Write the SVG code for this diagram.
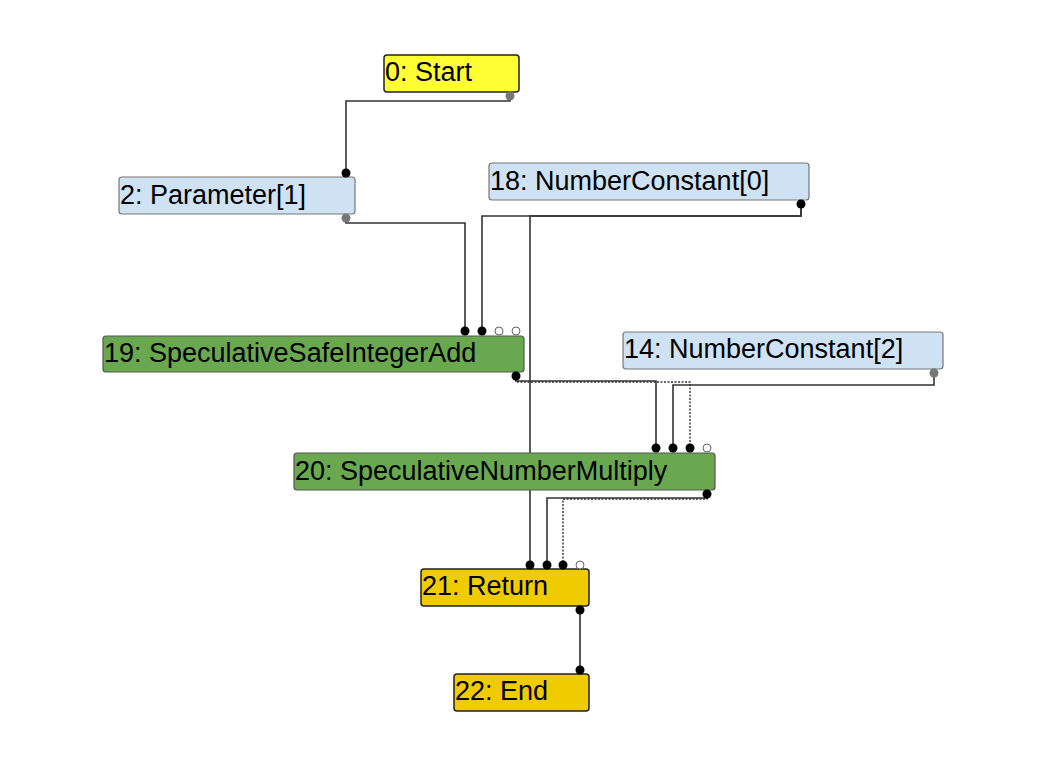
<svg xmlns="http://www.w3.org/2000/svg" width="1055" height="764" viewBox="0 0 1055 764">
<style>
.node rect{stroke:#222;stroke-width:1.5;}
.node text{font-family:"Liberation Sans",Arial,sans-serif;font-size:27px;fill:#000;}
.ctrl rect{fill:#ffff33;}
.ret rect{fill:#f0cb00;}
.cst rect{fill:#cfe2f3;stroke:#777;stroke-width:1.2;}
.op rect{fill:#6aa84f;stroke:#555;stroke-width:1.2;}
.e{fill:none;stroke:#333;stroke-width:1.6;}
.d{fill:none;stroke:#333;stroke-width:1.4;stroke-dasharray:2 1.5;}
.in{fill:#000;}
.gr{fill:#777;}
.ho{fill:#fff;stroke:#666;stroke-width:1;}
</style>
<rect width="1055" height="764" fill="#fff"/>
<g id="connectors">
<path class="e" d="M510,96 V101 H346 V173"/>
<path class="e" d="M346,218 V223 H465 V331"/>
<path class="e" d="M801,204 V216 H482 V331"/>
<path class="e" d="M801,204 V216 H530 V565"/>
<path class="e" d="M516,376 V381 H656 V448"/>
<path class="d" d="M516,376 V382 H690 V448"/>
<path class="e" d="M934,373 V385 H673 V448"/>
<path class="e" d="M707,494 V498 H547 V565"/>
<path class="d" d="M707,494 V499 H563 V565"/>
<path class="e" d="M580,610 V670"/>
</g>
<g id="node0" class="node ctrl">
<rect x="384" y="55" width="135" height="37" rx="3"/>
<text x="385" y="81">0: Start</text>
<circle class="gr" cx="510" cy="96" r="4.5"/>
</g>
<g id="node2" class="node cst">
<rect x="119" y="177" width="236" height="37" rx="3"/>
<text x="120" y="204">2: Parameter[1]</text>
<circle class="in" cx="346" cy="173" r="4.5"/>
<circle class="gr" cx="346" cy="218" r="4.5"/>
</g>
<g id="node18" class="node cst">
<rect x="489" y="163" width="320" height="37" rx="3"/>
<text x="490" y="190">18: NumberConstant[0]</text>
<circle class="in" cx="801" cy="204" r="4.5"/>
</g>
<g id="node19" class="node op">
<rect x="103" y="336" width="421" height="36" rx="3"/>
<text x="104" y="362">19: SpeculativeSafeIntegerAdd</text>
<circle class="in" cx="465" cy="331" r="4.5"/>
<circle class="in" cx="482" cy="331" r="4.5"/>
<circle class="ho" cx="499" cy="331" r="4"/>
<circle class="ho" cx="516" cy="331" r="4"/>
<circle class="in" cx="516" cy="376" r="4.5"/>
</g>
<g id="node14" class="node cst">
<rect x="623" y="332" width="320" height="37" rx="3"/>
<text x="624" y="358">14: NumberConstant[2]</text>
<circle class="gr" cx="934" cy="373" r="4.5"/>
</g>
<g id="node20" class="node op">
<rect x="294" y="453" width="421" height="37" rx="3"/>
<text x="295" y="480">20: SpeculativeNumberMultiply</text>
<circle class="in" cx="656" cy="448" r="4.5"/>
<circle class="in" cx="673" cy="448" r="4.5"/>
<circle class="in" cx="690" cy="448" r="4.5"/>
<circle class="ho" cx="707" cy="448" r="4"/>
<circle class="in" cx="707" cy="494" r="4.5"/>
</g>
<g id="node21" class="node ret">
<rect x="421" y="569" width="168" height="37" rx="3"/>
<text x="422" y="595">21: Return</text>
<circle class="in" cx="530" cy="565" r="4.5"/>
<circle class="in" cx="547" cy="565" r="4.5"/>
<circle class="in" cx="563" cy="565" r="4.5"/>
<circle class="ho" cx="580" cy="565" r="4"/>
<circle class="in" cx="580" cy="610" r="4.5"/>
</g>
<g id="node22" class="node ret">
<rect x="454" y="674" width="135" height="37" rx="3"/>
<text x="455" y="700">22: End</text>
<circle class="in" cx="580" cy="670" r="4.5"/>
</g>
</svg>
